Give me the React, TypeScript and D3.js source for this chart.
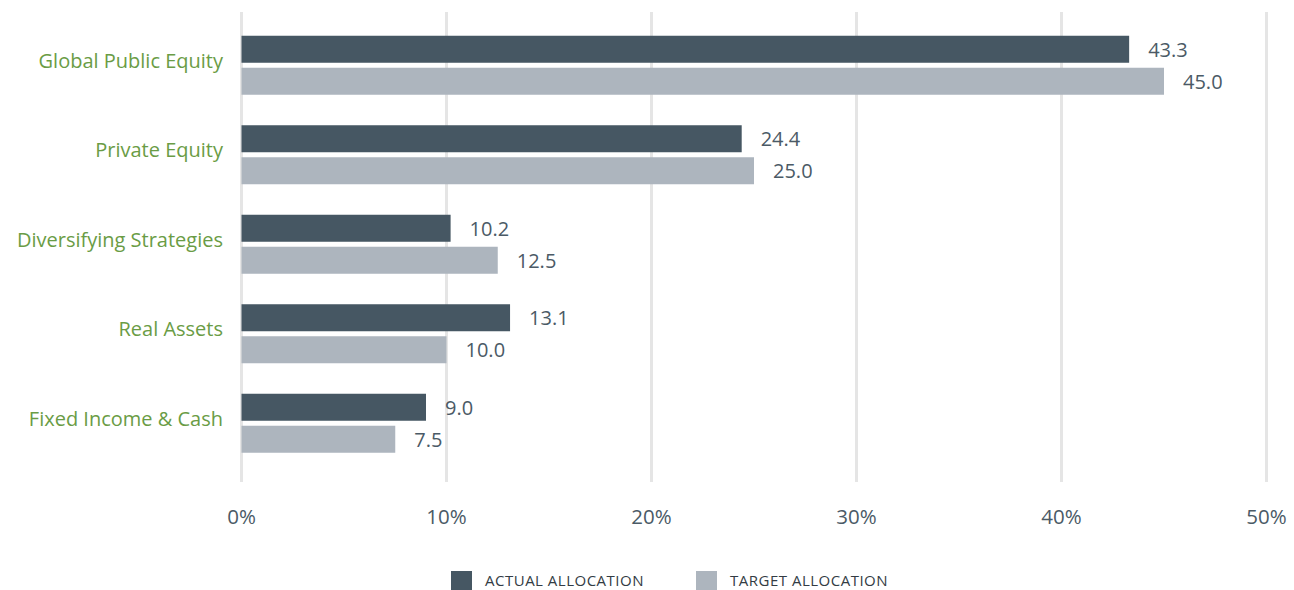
import React from "react";
import * as d3 from "d3";

const categories = [
  "Global Public Equity",
  "Private Equity",
  "Diversifying Strategies",
  "Real Assets",
  "Fixed Income & Cash",
];
const actualValues = [43.3, 24.4, 10.2, 13.1, 9.0];
const targetValues = [45.0, 25.0, 12.5, 10.0, 7.5];
const xTicks = [0, 10, 20, 30, 40, 50];
const seriesNames = ["ACTUAL ALLOCATION", "TARGET ALLOCATION"];

const W = 1294;
const H = 590;
const FONT = "'Open Sans', sans-serif";
const DARK = "#465763";
const LIGHT = "#adb5be";
const GREEN = "#6a9c45";
const TEXT = "#4b5a66";
const GRID = "#e5e5e5";

export default function App() {
  const x = d3.scaleLinear().domain([0, 50]).range([241.5, 1266.5]);
  const y = d3.scaleBand().domain(categories).range([20.5, 468]).padding(0);
  const barH = 27;
  const gap = 5;
  const series = [actualValues, targetValues];
  const colors = [DARK, LIGHT];

  return (
    <svg width={W} height={H} style={{ position: "absolute", left: 0, top: 0, fontFamily: FONT }}>
      {xTicks.map((t) => (
        <g key={t}>
          <line x1={x(t)} x2={x(t)} y1={12} y2={482} stroke={GRID} strokeWidth={3} />
          <text x={x(t)} y={516} textAnchor="middle" dominantBaseline="central" fontSize={20.5} fill={TEXT}>
            {t}%
          </text>
        </g>
      ))}
      {categories.map((c, i) => {
        const cy = (y(c) as number) + y.bandwidth() / 2;
        const top = cy - barH - gap / 2;
        return (
          <g key={c}>
            <text x={223} y={cy - 5} textAnchor="end" dominantBaseline="central" fontSize={20} fill={GREEN}>
              {c}
            </text>
            {series.map((s, k) => {
              const by = top + k * (barH + gap);
              return (
                <g key={k}>
                  <rect x={x(0)} y={by} width={x(s[i]) - x(0)} height={barH} fill={colors[k]} />
                  <text x={x(s[i]) + 19} y={by + barH / 2} dominantBaseline="central" fontSize={20} fill={TEXT}>
                    {s[i].toFixed(1)}
                  </text>
                </g>
              );
            })}
          </g>
        );
      })}
      {seriesNames.map((n, k) => {
        const lx = [451, 696][k];
        return (
          <g key={n}>
            <rect x={lx} y={571} width={21} height={19} fill={colors[k]} />
            <text x={lx + 34} y={580} dominantBaseline="central" fontSize={15} letterSpacing={0.5} fill="#333c44">
              {n}
            </text>
          </g>
        );
      })}
    </svg>
  );
}
